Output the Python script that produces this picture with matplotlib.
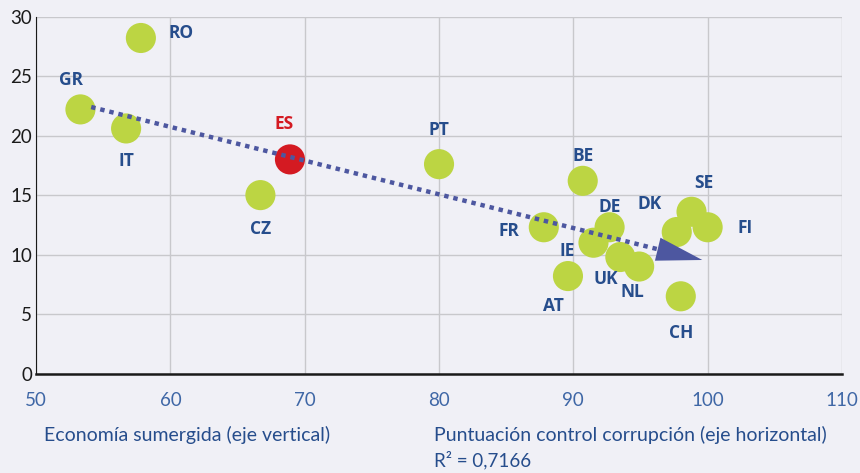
import matplotlib.pyplot as plt

plt.rcParams['font.family'] = ['Lato', 'DejaVu Sans']

# datos
paises = ['GR', 'RO', 'IT', 'ES', 'CZ', 'PT', 'BE', 'FR', 'DE', 'IE',
          'UK', 'NL', 'AT', 'CH', 'DK', 'SE', 'FI']
corrupcion = [53.3, 57.8, 56.7, 68.9, 66.7, 80.0, 90.7, 87.8, 92.7, 91.5,
              93.5, 94.9, 89.6, 98.0, 97.7, 98.8, 100.0]
economia = [22.2, 28.2, 20.6, 18.0, 15.0, 17.6, 16.2, 12.3, 12.3, 11.0,
            9.8, 9.0, 8.2, 6.5, 11.9, 13.6, 12.3]
# desplazamiento de las etiquetas (px)
etiq_dx = [-9, 40, 0, -6, 0, 0, 0, -35, 0, -26, -15, -7, -15, 0, -27, 12, 37]
etiq_dy = [29, 5, -33, 35, -34, 34, 25, -4, 20, -8, -22, -25, -30, -37, 28, 29, -1]

tendencia_x = [54.1, 96.3, 99.6]
tendencia_y = [22.4, 10.45, 9.55]

fondo = '#f0f0f6'
verde = '#bcd543'
rojo = '#d41a22'
azul = '#264d8c'
azul_linea = '#4d57a0'

fig = plt.figure(figsize=(8.6, 4.73), dpi=100, facecolor=fondo)
ax = fig.add_axes([0.042, 0.21, 0.937, 0.755], facecolor=fondo)

colores = [rojo if p == 'ES' else verde for p in paises]
ax.scatter(corrupcion, economia, s=470, c=colores, zorder=3, linewidths=0)

# línea de tendencia punteada y punta de flecha
ax.plot(tendencia_x[:2], tendencia_y[:2], color=azul_linea, lw=3.2,
        ls=(0, (1, 1.1)), zorder=4, dash_capstyle='butt')
ax.annotate('', xy=(tendencia_x[2], tendencia_y[2]),
            xytext=(tendencia_x[1], tendencia_y[1]),
            arrowprops=dict(arrowstyle='-|>,head_length=3.3,head_width=0.85',
                            color=azul_linea, lw=0, shrinkA=0, shrinkB=0,
                            mutation_scale=10),
            zorder=4)

for p, x, y, dx, dy in zip(paises, corrupcion, economia, etiq_dx, etiq_dy):
    ax.annotate(p, (x, y), xytext=(dx, dy), textcoords='offset pixels',
                ha='center', va='center', fontsize=12.5, fontweight='bold',
                family=['Open Sans', 'DejaVu Sans'],
                color=rojo if p == 'ES' else azul, zorder=5)

ax.set_xlim(50, 110)
ax.set_ylim(0, 30)
ax.set_xticks(range(50, 111, 10))
ax.set_yticks(range(0, 31, 5))
ax.grid(True, color='#c8c8cc', lw=1)
ax.set_axisbelow(True)
for lado in ['top', 'right']:
    ax.spines[lado].set_visible(False)
ax.spines['left'].set_color('#1a1a1a')
ax.spines['bottom'].set_color('#1a1a1a')
ax.spines['bottom'].set_linewidth(1.8)
ax.tick_params(axis='both', length=0, labelsize=13.5)
ax.tick_params(axis='x', pad=13, labelcolor='#3f67a6')
ax.tick_params(axis='y', pad=3, labelcolor='#1a1a1a')

fig.text(0.051, 0.080, 'Economía sumergida (eje vertical)', fontsize=14,
         color=azul, va='center')
fig.text(0.505, 0.080, 'Puntuación control corrupción (eje horizontal)',
         fontsize=14, color=azul, va='center')
fig.text(0.505, 0.027, 'R² = 0,7166', fontsize=13.5, color=azul,
         va='center')

fig.savefig('out.png', dpi=100, facecolor=fondo)
